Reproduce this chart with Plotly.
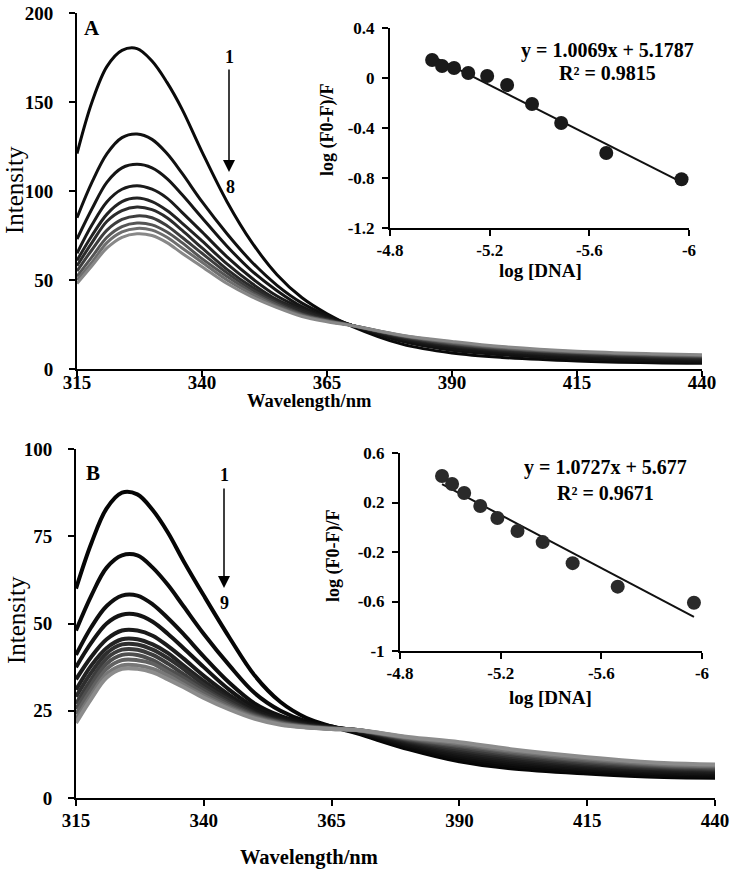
import numpy as np
import plotly.graph_objects as go

# wavelengths (nm) at which the spectra are sampled
wl = [315, 318, 321, 324, 327, 330, 333, 336, 340, 345, 350, 355, 360, 365, 370, 380, 390, 400, 415, 430, 440]

# panel A spectra, curve 1 (top) .. lowest
spec_a = [
    [121, 150, 170, 179, 180, 173, 161, 146, 122, 94, 71, 53, 40, 31, 24, 14, 9, 6.5, 4.5, 3.5, 3.2],
    [85, 105, 121, 130, 132, 129, 121, 110, 94, 76, 60, 47, 37, 30, 24.5, 15.5, 10.5, 8, 5.8, 4.5, 4],
    [73, 90, 105, 113, 115, 113, 107, 98, 85, 69, 55, 44, 35, 29, 24.5, 16.5, 11.5, 9, 6.5, 5.2, 4.6],
    [65, 81, 94, 101, 103, 101, 96, 88, 77, 63, 51, 41, 34, 28.5, 24.5, 17, 12.5, 9.8, 7.2, 5.8, 5.2],
    [61, 75, 87, 94, 96, 94, 89, 82, 72, 59, 48, 39, 33, 28, 24.5, 17.5, 13, 10.3, 7.8, 6.3, 5.7],
    [58, 71, 83, 89, 91, 89.5, 85, 78, 68, 56, 46, 38, 32, 27.5, 24.5, 18, 13.5, 10.8, 8.3, 6.8, 6.2],
    [55, 67, 78, 84, 86, 85, 80.5, 74, 65, 54, 44.5, 37, 31, 27.5, 24.5, 18.3, 14, 11.3, 8.8, 7.3, 6.7],
    [52, 63, 74, 80, 82, 81, 77, 71, 62, 52, 43, 36, 30.5, 27, 24.5, 18.6, 14.5, 11.8, 9.2, 7.8, 7.2],
    [50, 60, 71, 77, 79, 78, 74, 68, 60, 50, 42, 35, 30, 27, 24.5, 18.8, 15, 12.2, 9.6, 8.2, 7.6],
    [48, 58, 68, 74, 76, 75, 71, 65, 57.5, 48, 40.5, 34.5, 29.5, 26.5, 24.3, 19, 15.5, 12.6, 10, 8.6, 8],
]

# panel B spectra
spec_b = [
    [60, 73, 83, 87.5, 87, 82.5, 76, 68, 58, 46, 35, 27.5, 23, 20.5, 18.5, 14, 10.5, 8.5, 7, 6, 5.8],
    [48, 58, 66, 69.5, 69.5, 66, 61, 55, 47, 38, 30, 25, 22, 20.5, 18.8, 14.5, 11.2, 9.2, 7.6, 6.5, 6.2],
    [41, 49, 55, 58, 58, 55.5, 51.5, 47, 40.5, 33, 27, 23.5, 21.5, 20.3, 19, 15, 11.8, 9.8, 8.1, 7, 6.6],
    [37.5, 44.5, 50, 52.5, 52.5, 50.5, 47, 43, 37.5, 31, 26, 23, 21.2, 20.2, 19.2, 15.4, 12.3, 10.3, 8.5, 7.4, 7],
    [34, 40.5, 45.5, 48, 48, 46.5, 43.5, 40, 35, 29.5, 25, 22.5, 21, 20.2, 19.3, 15.8, 12.8, 10.8, 8.9, 7.8, 7.4],
    [31, 38, 43, 45.5, 45.5, 44, 41.5, 38, 33.5, 28.5, 24.5, 22.2, 20.8, 20.1, 19.4, 16.1, 13.3, 11.3, 9.3, 8.2, 7.8],
    [29, 36, 41.5, 44, 44, 42.5, 40, 37, 32.5, 28, 24.2, 22, 20.7, 20, 19.4, 16.4, 13.8, 11.8, 9.7, 8.5, 8.1],
    [27, 34, 40, 42.5, 42.5, 41, 38.5, 35.5, 31.5, 27.3, 23.9, 21.8, 20.6, 20, 19.5, 16.7, 14.3, 12.3, 10.1, 8.8, 8.4],
    [25.5, 32.5, 38.5, 41, 41, 39.5, 37, 34.5, 30.8, 26.8, 23.6, 21.6, 20.5, 19.9, 19.5, 16.9, 14.8, 12.8, 10.5, 9.1, 8.7],
    [24, 31, 37, 39.5, 39.5, 38.5, 36, 33.5, 30, 26.3, 23.3, 21.4, 20.4, 19.9, 19.5, 17.1, 15.2, 13.2, 10.9, 9.4, 9],
    [22.5, 29.5, 35.5, 38, 38, 37, 35, 32.5, 29.3, 25.8, 23, 21.2, 20.3, 19.8, 19.5, 17.3, 15.6, 13.6, 11.3, 9.7, 9.3],
    [21.5, 28.5, 34.5, 37, 37, 36, 34, 31.8, 28.7, 25.4, 22.7, 21, 20.2, 19.8, 19.5, 17.5, 16, 14, 11.7, 10, 9.6],
]

# Stern-Volmer type insets
logdna_a = [-4.969, -5.009, -5.057, -5.114, -5.19, -5.27, -5.37, -5.487, -5.668, -5.97]
logf_a = [0.144, 0.096, 0.08, 0.04, 0.016, -0.056, -0.208, -0.36, -0.6, -0.81]
fit_a = (1.0069, 5.1787)

logdna_b = [-4.967, -5.007, -5.055, -5.119, -5.187, -5.267, -5.367, -5.486, -5.665, -5.968]
logf_b = [0.414, 0.35, 0.277, 0.172, 0.075, -0.03, -0.12, -0.29, -0.48, -0.61]
fit_b = (1.0727, 5.677)

colors_a = ['#0a0a0a', '#111111', '#151515', '#1a1a1a', '#222222', '#2b2b2b',
            '#3d3d3d', '#555555', '#6e6e6e', '#888888']
colors_b = ['#050505', '#0a0a0a', '#0f0f0f', '#141414', '#1a1a1a', '#222222',
            '#2e2e2e', '#3d3d3d', '#4f4f4f', '#626262', '#777777', '#8c8c8c']

SERIF = "Liberation Serif"
W, H = 734, 872


def px(x):
    return x / W


def py(y):
    return 1 - y / H


fig = go.Figure()

for ys, c in zip(spec_a, colors_a):
    fig.add_trace(go.Scatter(x=wl, y=ys, mode='lines', line=dict(color=c, width=3, shape='spline'),
                             xaxis='x', yaxis='y', showlegend=False))
for ys, c in zip(spec_b, colors_b):
    fig.add_trace(go.Scatter(x=wl, y=ys, mode='lines', line=dict(color=c, width=4, shape='spline'),
                             xaxis='x3', yaxis='y3', showlegend=False))


def add_inset(xs, ys, fit, xa, ya, mcol):
    xx = np.array([min(xs), max(xs)])
    fig.add_trace(go.Scatter(x=xx, y=fit[0] * xx + fit[1], mode='lines',
                             line=dict(color='#111', width=2), xaxis=xa, yaxis=ya, showlegend=False))
    fig.add_trace(go.Scatter(x=xs, y=ys, mode='markers', marker=dict(color=mcol, size=14),
                             xaxis=xa, yaxis=ya, showlegend=False))


add_inset(logdna_a, logf_a, fit_a, 'x2', 'y2', '#1a1a1a')
add_inset(logdna_b, logf_b, fit_b, 'x4', 'y4', '#2a2a2a')

tickfont_main = dict(family=SERIF, size=19, color='black', weight='bold')
tickfont_ins = dict(family=SERIF, size=17, color='black', weight='bold')
ax_common = dict(showline=True, linecolor='black', linewidth=2, ticks='outside', ticklen=6,
                 tickwidth=2, tickcolor='black', showgrid=False, zeroline=False, mirror=False,
                 automargin=False)

fig.update_layout(
    width=W, height=H, margin=dict(l=0, r=0, t=0, b=0),
    paper_bgcolor='white', plot_bgcolor='rgba(0,0,0,0)',
    xaxis=dict(ax_common, domain=[px(77), px(702)], range=[315, 440], tickvals=[315, 340, 365, 390, 415, 440],
               tickfont=tickfont_main, anchor='y', ticklabelstandoff=-11),
    yaxis=dict(ax_common, domain=[py(369), py(13)], range=[0, 200], tickvals=[0, 50, 100, 150, 200],
               tickfont=tickfont_main, anchor='x', ticklabelstandoff=12),
    xaxis2=dict(ax_common, domain=[px(390), px(689)], range=[-4.8, -6], tickvals=[-4.8, -5.2, -5.6, -6],
                ticktext=['-4.8', '-5.2', '-5.6', '-6'], tickfont=tickfont_ins, anchor='y2'),
    yaxis2=dict(ax_common, domain=[py(228), py(28)], range=[-1.2, 0.4], tickvals=[-1.2, -0.8, -0.4, 0, 0.4],
                ticktext=['-1.2', '-0.8', '-0.4', '0', '0.4'], tickfont=tickfont_ins, anchor='x2',
                ticklabelstandoff=4),
    xaxis3=dict(ax_common, domain=[px(76), px(715)], range=[315, 440], tickvals=[315, 340, 365, 390, 415, 440],
                tickfont=tickfont_main, anchor='y3', ticklabelstandoff=-2),
    yaxis3=dict(ax_common, domain=[py(798), py(449)], range=[0, 100], tickvals=[0, 25, 50, 75, 100],
                tickfont=tickfont_main, anchor='x3', ticklabelstandoff=12),
    xaxis4=dict(ax_common, domain=[px(400), px(702)], range=[-4.8, -6], tickvals=[-4.8, -5.2, -5.6, -6],
                ticktext=['-4.8', '-5.2', '-5.6', '-6'], tickfont=tickfont_ins, anchor='y4'),
    yaxis4=dict(ax_common, domain=[py(651), py(453)], range=[-1, 0.6], tickvals=[-1, -0.6, -0.2, 0.2, 0.6],
                ticktext=['-1', '-0.6', '-0.2', '0.2', '0.6'], tickfont=tickfont_ins, anchor='x4',
                ticklabelstandoff=4),
)

ann = []


def label(text, x, y, size, angle=0, weight='bold'):
    ann.append(dict(text=text, x=px(x), y=py(y), xref='paper', yref='paper', showarrow=False,
                    textangle=angle, xanchor='center', yanchor='middle',
                    font=dict(family=SERIF, size=size, color='black', weight=weight)))


# axis titles
label('Wavelength/nm', 309, 401, 18.5)
label('Wavelength/nm', 309, 857, 20.5)
label('Intensity', 15, 190, 25, -90, 'normal')
label('Intensity', 16, 620, 25, -90, 'normal')
label('log (F0-F)/F', 328, 130, 18, -90)
label('log (F0-F)/F', 333, 556, 18, -90)
label('log [DNA]', 540, 270, 19)
label('log [DNA]', 550, 697, 19)

# panel letters and equations
label('A', 92, 28, 21)
label('B', 93, 473, 21)
label('y = 1.0069x + 5.1787', 607, 50, 20)
label('R² = 0.9815', 607, 73, 20)
label('y = 1.0727x + 5.677', 605, 467, 20)
label('R² = 0.9671', 605, 493, 20)

# titration arrows
label('1', 229, 57, 18)
label('8', 230, 187, 18)
label('1', 224, 475, 18)
label('9', 224, 603, 18)
for x, y0, y1 in [(229, 68, 172), (224, 487, 588)]:
    ann.append(dict(x=px(x), y=py(y1), xref='paper', yref='paper', ax=0, ay=-(y1 - y0),
                    showarrow=True, arrowhead=2, arrowsize=1.6, arrowwidth=1.5, arrowcolor='black', text=''))

fig.update_layout(annotations=ann)
fig.write_html("out.html", config={'displayModeBar': False},
               post_script="document.body.style.margin='0px';")
